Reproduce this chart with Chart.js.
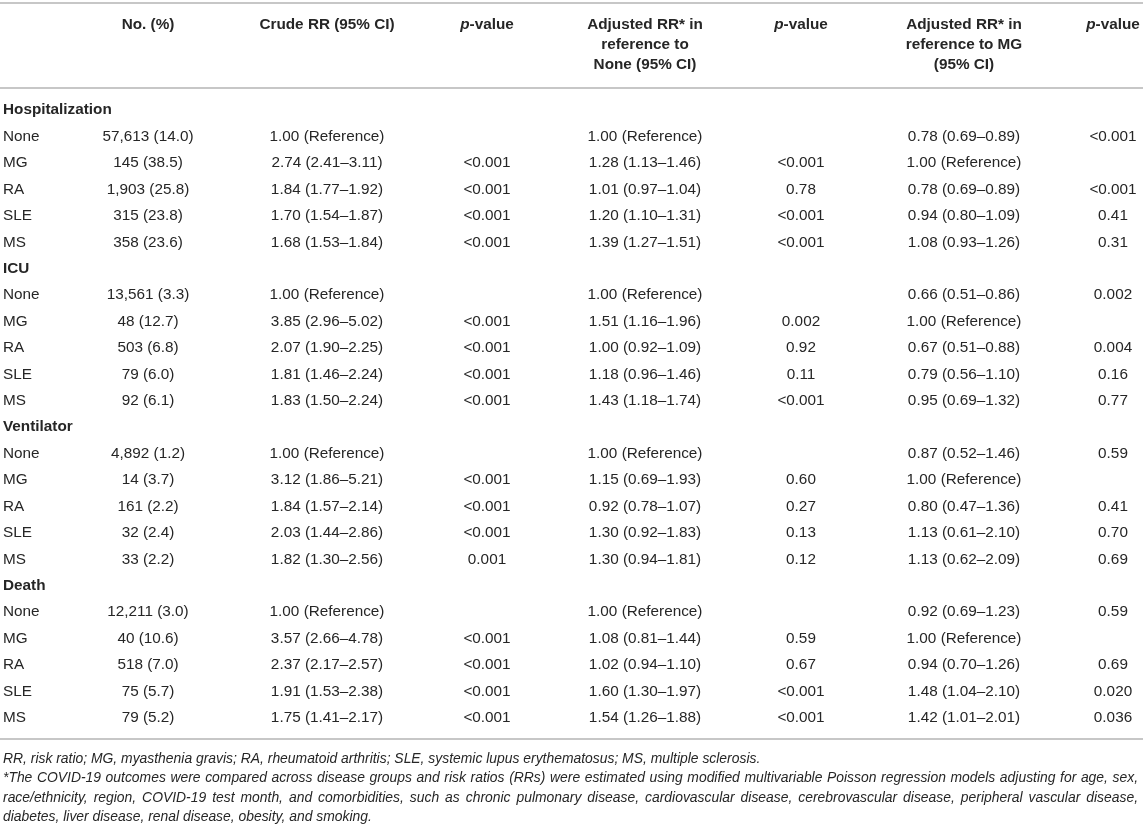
<!DOCTYPE html>
<html>
<head>
<meta charset="utf-8">
<script src="https://cdn.jsdelivr.net/npm/chart.js@4.4.1/dist/chart.umd.min.js"></script>
<style>
    html, body { margin: 0; padding: 0; background: #fff; }
    #wrap { width: 1143px; height: 826px; position: relative; }
</style>
</head>
<body>
<div id="wrap"><canvas id="riskTable"></canvas></div>
<script>
// table data
const sections = ['Hospitalization', 'ICU', 'Ventilator', 'Death'];
const groups = ['None', 'MG', 'RA', 'SLE', 'MS'];

const counts = [
    [57613, 145, 1903, 315, 358],
    [13561, 48, 503, 79, 92],
    [4892, 14, 161, 32, 33],
    [12211, 40, 518, 75, 79]
];
const percents = [
    [14.0, 38.5, 25.8, 23.8, 23.6],
    [3.3, 12.7, 6.8, 6.0, 6.1],
    [1.2, 3.7, 2.2, 2.4, 2.2],
    [3.0, 10.6, 7.0, 5.7, 5.2]
];

// [RR, lower, upper]; null = reference group
const crudeRR = [
    [null, [2.74, 2.41, 3.11], [1.84, 1.77, 1.92], [1.70, 1.54, 1.87], [1.68, 1.53, 1.84]],
    [null, [3.85, 2.96, 5.02], [2.07, 1.90, 2.25], [1.81, 1.46, 2.24], [1.83, 1.50, 2.24]],
    [null, [3.12, 1.86, 5.21], [1.84, 1.57, 2.14], [2.03, 1.44, 2.86], [1.82, 1.30, 2.56]],
    [null, [3.57, 2.66, 4.78], [2.37, 2.17, 2.57], [1.91, 1.53, 2.38], [1.75, 1.41, 2.17]]
];
const crudeP = [
    ['', '<0.001', '<0.001', '<0.001', '<0.001'],
    ['', '<0.001', '<0.001', '<0.001', '<0.001'],
    ['', '<0.001', '<0.001', '<0.001', '0.001'],
    ['', '<0.001', '<0.001', '<0.001', '<0.001']
];

const adjNoneRR = [
    [null, [1.28, 1.13, 1.46], [1.01, 0.97, 1.04], [1.20, 1.10, 1.31], [1.39, 1.27, 1.51]],
    [null, [1.51, 1.16, 1.96], [1.00, 0.92, 1.09], [1.18, 0.96, 1.46], [1.43, 1.18, 1.74]],
    [null, [1.15, 0.69, 1.93], [0.92, 0.78, 1.07], [1.30, 0.92, 1.83], [1.30, 0.94, 1.81]],
    [null, [1.08, 0.81, 1.44], [1.02, 0.94, 1.10], [1.60, 1.30, 1.97], [1.54, 1.26, 1.88]]
];
const adjNoneP = [
    ['', '<0.001', '0.78', '<0.001', '<0.001'],
    ['', '0.002', '0.92', '0.11', '<0.001'],
    ['', '0.60', '0.27', '0.13', '0.12'],
    ['', '0.59', '0.67', '<0.001', '<0.001']
];

const adjMGRR = [
    [[0.78, 0.69, 0.89], null, [0.78, 0.69, 0.89], [0.94, 0.80, 1.09], [1.08, 0.93, 1.26]],
    [[0.66, 0.51, 0.86], null, [0.67, 0.51, 0.88], [0.79, 0.56, 1.10], [0.95, 0.69, 1.32]],
    [[0.87, 0.52, 1.46], null, [0.80, 0.47, 1.36], [1.13, 0.61, 2.10], [1.13, 0.62, 2.09]],
    [[0.92, 0.69, 1.23], null, [0.94, 0.70, 1.26], [1.48, 1.04, 2.10], [1.42, 1.01, 2.01]]
];
const adjMGP = [
    ['<0.001', '', '<0.001', '0.41', '0.31'],
    ['0.002', '', '0.004', '0.16', '0.77'],
    ['0.59', '', '0.41', '0.70', '0.69'],
    ['0.59', '', '0.69', '0.020', '0.036']
];

const headers = [
    ['No. (%)'],
    ['Crude RR (95% CI)'],
    ['*p*-value'],
    ['Adjusted RR* in', 'reference to', 'None (95% CI)'],
    ['*p*-value'],
    ['Adjusted RR* in', 'reference to MG', '(95% CI)'],
    ['*p*-value']
];

const footnote1 = 'RR, risk ratio; MG, myasthenia gravis; RA, rheumatoid arthritis; SLE, systemic lupus erythematosus; MS, multiple sclerosis.';
const footnote2 = [
    '*The COVID-19 outcomes were compared across disease groups and risk ratios (RRs) were estimated using modified multivariable Poisson regression models adjusting for age, sex,',
    'race/ethnicity, region, COVID-19 test month, and comorbidities, such as chronic pulmonary disease, cardiovascular disease, cerebrovascular disease, peripheral vascular disease,',
    'diabetes, liver disease, renal disease, obesity, and smoking.'
];

// layout
const colCenters = [148, 327, 487, 645, 801, 964, 1113];
const labelX = 3;
const textColor = '#262626';
const ruleColor = '#b4b4b4';
const family = '"Liberation Sans", Arial, Helvetica, sans-serif';
const cellSize = 15.3;

function fmtRR(v) {
    if (!v) return '1.00 (Reference)';
    return v[0].toFixed(2) + ' (' + v[1].toFixed(2) + '\u2013' + v[2].toFixed(2) + ')';
}
function fmtCount(n, p) {
    return n.toLocaleString('en-US') + ' (' + p.toFixed(1) + ')';
}

// rows: section heading followed by its five groups
const rowLabels = [];
const cellText = [[], [], [], [], [], [], []];
sections.forEach((sec, s) => {
    rowLabels.push({ text: sec, bold: true });
    cellText.forEach(col => col.push(''));
    groups.forEach((g, k) => {
        rowLabels.push({ text: g, bold: false });
        cellText[0].push(fmtCount(counts[s][k], percents[s][k]));
        cellText[1].push(fmtRR(crudeRR[s][k]));
        cellText[2].push(crudeP[s][k]);
        cellText[3].push(fmtRR(adjNoneRR[s][k]));
        cellText[4].push(adjNoneP[s][k]);
        cellText[5].push(fmtRR(adjMGRR[s][k]));
        cellText[6].push(adjMGP[s][k]);
    });
});

const datasets = [{
    label: 'labels',
    align: 'left',
    data: rowLabels.map((r, i) => ({ x: labelX, y: i, text: r.text, bold: r.bold }))
}];
cellText.forEach((col, c) => {
    datasets.push({
        label: 'col' + c,
        align: 'center',
        data: col.map((t, i) => ({ x: colCenters[c], y: i, text: t }))
            .filter(d => d.text !== '')
    });
});

function drawHeaderLine(ctx, line, cx, y) {
    // '*p*' marks an italic part
    const parts = [];
    line.split('*p*').forEach((seg, i, arr) => {
        if (seg) parts.push({ t: seg, it: false });
        if (i < arr.length - 1) parts.push({ t: 'p', it: true });
    });
    let total = 0;
    parts.forEach(p => {
        ctx.font = (p.it ? 'italic ' : '') + 'bold ' + cellSize + 'px ' + family;
        p.w = ctx.measureText(p.t).width;
        total += p.w;
    });
    let x = cx - total / 2;
    ctx.textAlign = 'left';
    parts.forEach(p => {
        ctx.font = (p.it ? 'italic ' : '') + 'bold ' + cellSize + 'px ' + family;
        ctx.fillText(p.t, x, y);
        x += p.w;
    });
}

function drawJustified(ctx, text, x0, x1, y) {
    const words = text.split(' ');
    const wordsW = words.reduce((s, w) => s + ctx.measureText(w).width, 0);
    const gap = (x1 - x0 - wordsW) / (words.length - 1);
    let x = x0;
    words.forEach(w => {
        ctx.fillText(w, x, y);
        x += ctx.measureText(w).width + gap;
    });
}

const tableText = {
    id: 'tableText',
    afterDatasetsDraw(chart) {
        const ctx = chart.ctx;
        const area = chart.chartArea;
        const w = chart.width;
        ctx.save();

        ctx.strokeStyle = ruleColor;
        ctx.lineWidth = 1.5;
        [3, area.top - 9, area.bottom + 8].forEach(y => {
            ctx.beginPath();
            ctx.moveTo(0, y);
            ctx.lineTo(w, y);
            ctx.stroke();
        });

        ctx.fillStyle = textColor;
        ctx.textBaseline = 'middle';
        headers.forEach((lines, c) => {
            lines.forEach((line, l) => drawHeaderLine(ctx, line, colCenters[c], 25 + l * 20));
        });

        chart.data.datasets.forEach((ds, di) => {
            const meta = chart.getDatasetMeta(di);
            ctx.textAlign = ds.align;
            meta.data.forEach((pt, i) => {
                const cell = ds.data[i];
                ctx.font = (cell.bold ? 'bold ' : '') + cellSize + 'px ' + family;
                ctx.fillText(cell.text, pt.x, pt.y);
            });
        });

        ctx.font = 'italic 13.9px ' + family;
        ctx.textAlign = 'left';
        const fy = area.bottom + 28;
        ctx.fillText(footnote1, labelX, fy);
        footnote2.forEach((line, i) => {
            const y = fy + 19.5 * (i + 1);
            if (i < footnote2.length - 1) {
                drawJustified(ctx, line, labelX, w - 5, y);
            } else {
                ctx.fillText(line, labelX, y);
            }
        });
        ctx.restore();
    }
};

new Chart(document.getElementById('riskTable'), {
    type: 'scatter',
    data: { datasets },
    options: {
        responsive: true,
        maintainAspectRatio: false,
        animation: false,
        events: [],
        layout: { padding: { top: 97, bottom: 95, left: 0, right: 0 } },
        elements: { point: { radius: 0, hoverRadius: 0 } },
        plugins: {
            legend: { display: false },
            tooltip: { enabled: false }
        },
        scales: {
            x: { type: 'linear', min: 0, max: 1143, display: false },
            y: { type: 'linear', reverse: true, min: -0.5, max: rowLabels.length - 0.5, display: false }
        }
    },
    plugins: [tableText]
});
</script>
</body>
</html>
